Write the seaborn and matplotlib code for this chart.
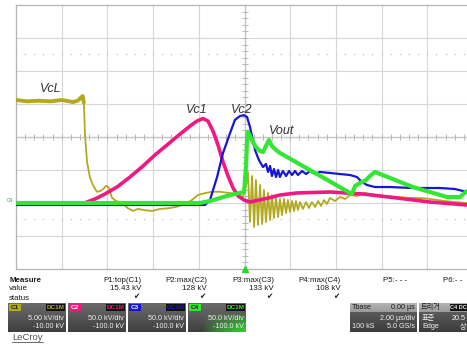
import numpy as np
import pandas as pd
import matplotlib
matplotlib.use("Agg")
import matplotlib.pyplot as plt
import matplotlib.colors as mcolors
from matplotlib.patches import Rectangle
from matplotlib.lines import Line2D
import seaborn as sns

# ---------------- waveform data (time in us, voltage in kV) ----------------
t_vcl = [-10.0, -9.5, -9.0, -8.5, -8.0, -7.5, -7.3, -7.15, -7.08, -7.03,
         -6.98, -6.89, -6.76, -6.63, -6.46, -6.32, -6.19, -6.06, -5.93, -5.80,
         -5.62, -5.36, -5.10, -4.88, -4.66, -4.35, -4.05, -3.70, -3.35, -3.00,
         -2.60, -2.30, -2.04, -1.73, -1.42, -1.07, -0.63, -0.28, -0.07,
         0.07, 0.15, 0.24, 0.33, 0.42, 0.50, 0.59, 0.68, 0.77, 0.85,
         0.94, 1.03, 1.12, 1.20, 1.29, 1.38, 1.47, 1.55, 1.64, 1.73,
         1.82, 1.90, 1.99, 2.08, 2.17, 2.25, 2.34, 2.43, 2.56, 2.69,
         2.82, 2.95, 3.09, 3.22, 3.35, 3.48, 3.61, 3.74, 3.96, 4.18,
         4.40, 4.62, 4.92, 5.27, 5.71, 6.15, 6.67, 7.24, 7.68, 8.12,
         8.77, 9.21, 9.74]
v_vcl = [15.6, 15.4, 15.5, 15.4, 15.6, 15.3, 15.5, 16.0, 16.2, 15.2,
         10.3, 6.2, 3.8, 2.7, 1.7, 1.8, 2.1, 2.6, 2.3, 0.8,
         0.3, 0.0, -0.8, -1.2, -0.9, -1.1, -1.2, -0.9, -0.8, -0.6,
         -0.15, 0.45, 1.2, 1.5, 1.7, 1.7, 1.5, 1.2, 0.9,
         2.73, 4.70, -2.88, 4.09, -3.64, 3.48, -3.33, 2.73, -3.18, 1.97,
         -2.88, 1.52, -2.58, 1.21, -2.27, 0.91, -2.12, 0.61, -1.82, 0.61,
         -1.52, 0.45, -1.36, 0.30, -1.21, 0.30, -1.06, 0.15, -0.91, 0.15,
         -0.76, 0.15, -0.61, 0.30, -0.45, 0.45, -0.15, 0.76, 0.30, 0.91,
         0.61, 1.21, 1.06, 1.52, 1.21, 1.06, 0.91, 0.76, 0.76, 0.61,
         0.30, 0.15, 0.0]

t_vc1 = [-10.0, -7.00, -6.54, -6.11, -5.58, -5.01, -4.44, -3.92, -3.39, -2.82,
         -2.38, -2.08, -1.82, -1.60, -1.38, -1.16, -0.94, -0.72, -0.50, -0.28,
         -0.02, 0.24, 1.05, 1.55, 2.30, 3.74, 5.19, 6.67, 8.12, 9.74]
v_vc1 = [0.0, 0.0, 6.1, 13.6, 24.2, 39.4, 56.1, 72.7, 87.9, 104.5,
         116.7, 124.2, 128.0, 124.2, 109.1, 87.9, 62.1, 40.9, 22.7, 10.6,
         4.5, 1.5, 7.6, 12.1, 15.2, 16.7, 13.6, 7.6, 1.5, -3.0]

t_vc2 = [-10.0, -1.73, -1.51, -1.20, -0.94, -0.63, -0.42, -0.20, -0.02, 0.11,
         0.24, 0.46, 0.63, 0.81, 0.94, 1.03, 1.12, 1.20, 1.29, 1.38,
         1.47, 1.55, 1.68, 1.82, 1.95, 2.08, 2.21, 2.34, 2.52, 2.69,
         2.87, 3.09, 3.30, 3.74, 4.18, 4.62, 4.92, 5.14, 5.36, 5.71,
         6.37, 7.37, 8.56, 9.21, 9.74]
v_vc2 = [-3.0, -3.0, 4.5, 39.4, 75.8, 106.1, 125.8, 131.8, 133.0, 130.3,
         115.2, 80.3, 65.2, 54.5, 59.1, 47.0, 56.1, 40.9, 51.5, 39.4,
         50.0, 39.4, 48.5, 40.9, 48.5, 42.4, 48.5, 42.4, 48.5, 43.9,
         48.5, 43.9, 47.0, 45.5, 43.9, 42.4, 39.4, 31.8, 27.3, 24.2,
         24.2, 22.7, 22.7, 21.2, 16.7]

t_vout = [-10.0, -1.95, -1.51, -1.07, -0.63, -0.20, -0.02, 0.07, 0.11, 0.15,
          0.24, 0.37, 0.50, 0.68, 0.81, 0.94, 1.07, 1.20, 1.38, 1.55,
          4.70, 4.84, 5.05, 5.32, 5.49, 5.71, 7.37, 8.86, 9.43, 9.74]
v_vout = [0.0, 0.0, 3.0, 7.6, 12.1, 15.2, 16.7, 57.6, 95.4, 108.0,
          101.5, 92.4, 84.8, 78.8, 77.3, 86.4, 95.4, 86.4, 80.3, 75.8,
          13.6, 25.8, 30.3, 34.8, 40.9, 47.0, 24.2, 9.1, 9.1, 18.2]

# ---------------- channel setup ----------------
channels = ["C1", "C2", "C3", "C4"]
trace_names = ["VcL", "Vc1", "Vc2", "Vout"]
volts_per_div = [5.0, 50.0, 50.0, 50.0]
offset_kv = [-10.0, -100.0, -100.0, -100.0]
ch_colors = ["#b3a91e", "#f01882", "#1616d6", "#33e633"]
ch_widths = [1.3, 2.6, 1.6, 3.0]

meas_names = ["P1:top(C1)", "P2:max(C2)", "P3:max(C3)", "P4:max(C4)", "P5:- - -"]
meas_values = ["15.43 kV", "128 kV", "133 kV", "108 kV", ""]
scale_labels = ["5.00 kV/div", "50.0 kV/div", "50.0 kV/div", "50.0 kV/div"]
offset_labels = ["-10.00 kV", "-100.0 kV", "-100.0 kV", "-100.0 kV"]

series = [(t_vcl, v_vcl), (t_vc1, v_vc1), (t_vc2, v_vc2), (t_vout, v_vout)]
frames = []
for ch, (tt, vv), vpd, off in zip(channels, series, volts_per_div, offset_kv):
    d = pd.DataFrame({"t": tt, "kV": vv})
    d["div"] = (d["kV"] + off) / vpd
    d["ch"] = ch
    frames.append(d)
df = pd.concat(frames, ignore_index=True)

# ---------------- figure ----------------
W, H = 467, 344
sns.set_theme(style="white")
plt.rcParams["font.family"] = ["Liberation Sans", "DejaVu Sans", "Noto Sans CJK KR"]
KR = ["Noto Sans CJK KR", "DejaVu Sans"]

fig = plt.figure(figsize=(W / 100, H / 100), dpi=100)
fig.patch.set_facecolor("white")


def fx(x):
    return x / W


def fy(y):
    return 1 - y / H


ax = fig.add_axes([fx(16), fy(269), 451 / W, 264 / H])
ax.set_xlim(-10, -10 + 451 / 22.85)
ax.set_ylim(-4, 4)
ax.set_facecolor("white")

grid_c = "#d6d6d6"
for gx in range(-8, 10, 2):
    ax.axvline(gx, color=grid_c, lw=0.8, zorder=0)
for gy in range(-3, 4):
    ax.axhline(gy, color=grid_c, lw=0.8, zorder=0)
ax.axvline(0, color="#c4c4c4", lw=0.9, zorder=0)
ax.axhline(0, color="#c4c4c4", lw=0.9, zorder=0)

xt = np.arange(-10, 9.8, 0.4)
yt = np.arange(-4, 4.01, 0.2)
ax.plot(xt, np.zeros_like(xt), ls="none", marker="|", ms=4, mew=0.7, color="#b8b8b8", zorder=0)
ax.plot(np.zeros_like(yt), yt, ls="none", marker="_", ms=4, mew=0.7, color="#b8b8b8", zorder=0)
for yd in (2.5, -2.5):
    ax.plot(xt, np.full_like(xt, yd), ls="none", marker="s", ms=0.9, mew=0, color="#c4c4c4", zorder=0)

for spine in ("left", "top", "bottom"):
    ax.spines[spine].set_color("#b4b4b4")
    ax.spines[spine].set_linewidth(0.9)
ax.spines["right"].set_visible(False)
ax.set_xticks([])
ax.set_yticks([])

for i, (ch, col, lw) in enumerate(zip(channels, ch_colors, ch_widths)):
    sub = df[df["ch"] == ch]
    sns.lineplot(data=sub, x="t", y="div", ax=ax, color=col, lw=lw,
                 sort=False, estimator=None, legend=False, zorder=3 + i)
    if ch == "C1":
        pre = sub[sub["t"] < -7.02]
        sns.lineplot(data=pre, x="t", y="div", ax=ax, color=col, lw=2.8,
                     sort=False, estimator=None, legend=False, zorder=3)
ax.set_xlabel("")
ax.set_ylabel("")

label_pos = [(-8.47, 1.45), (-2.08, 0.82), (-0.11, 0.82), (1.64, 0.18)]
for name, (lx, ly) in zip(trace_names, label_pos):
    ax.text(lx, ly, name, fontsize=9, style="italic", color="#333333",
            ha="center", va="center", zorder=10)

# trigger position marker and channel ground marker
ax.plot([0], [-4], marker="^", ms=5, color="#22dd22", clip_on=False, zorder=10)
fig.text(fx(7), fy(201), "C4", fontsize=3.5, color="#22aa22", ha="left", va="center")

# ---------------- measurement table ----------------
txt = dict(fontsize=5.7, color="#1a1a1a", va="center")
fig.text(fx(9), fy(280), "Measure", fontweight="bold", **txt)
fig.text(fx(9), fy(289), "value", **txt)
fig.text(fx(9), fy(298), "status", **txt)
col_right = [141, 207, 274, 341, 407]
for xr, nm, val in zip(col_right, meas_names, meas_values):
    fig.text(fx(xr), fy(280), nm, ha="right", **txt)
    if val:
        fig.text(fx(xr), fy(289), val, ha="right", **txt)
        fig.text(fx(xr - 2), fy(298), "\u2714", ha="right", fontsize=5.5,
                 color="#222222", va="center")
fig.text(fx(443), fy(280), "P6:- -", ha="left", **txt)


def grad_box(x0, y0, x1, y1, top, bottom, glow=None):
    bax = fig.add_axes([fx(x0), fy(y1), (x1 - x0) / W, (y1 - y0) / H])
    n = 40
    ct = np.array(mcolors.to_rgb(top))
    cb = np.array(mcolors.to_rgb(bottom))
    f = np.linspace(0, 1, n)
    img = ct[None, None, :] * (1 - f)[:, None, None] + cb[None, None, :] * f[:, None, None]
    img = np.repeat(img, n, axis=1)
    if glow is not None:
        gx = np.clip((np.linspace(0, 1, n) - 0.25) / 0.75, 0, 1)
        gy = np.clip((f - 0.35) / 0.65, 0, 1)
        w = (gy[:, None] * gx[None, :]) ** 0.7
        cg = np.array(mcolors.to_rgb(glow))
        img = img * (1 - w[:, :, None]) + cg[None, None, :] * w[:, :, None]
    bax.imshow(img, aspect="auto", extent=(0, 1, 0, 1), interpolation="bilinear")
    bax.set_axis_off()
    return bax


def tag(x, y, w, h, face, text, tcolor, fs=4.6):
    fig.add_artist(Rectangle((fx(x), fy(y + h)), w / W, h / H, transform=fig.transFigure,
                             facecolor=face, edgecolor="none", zorder=5))
    fig.text(fx(x + w / 2), fy(y + h / 2), text, ha="center", va="center",
             fontsize=fs, color=tcolor, fontweight="bold", zorder=6)


box_x = [8, 68, 128, 188]
for i, x0 in enumerate(box_x):
    x1 = x0 + 58
    glow = "#2fd42f" if channels[i] == "C4" else None
    grad_box(x0, 303, x1, 332, "#6c6c6c", "#3e3e3e", glow=glow)
    tag_text_col = "#222222" if channels[i] in ("C1", "C4") else "#f4f4f4"
    tag(x0 + 1, 304, 12, 7, ch_colors[i], channels[i], tag_text_col)
    tag(x1 - 20, 304, 19, 7, "#111111", "DC1M", ch_colors[i])
    fig.text(fx(x1 - 2), fy(318), scale_labels[i], ha="right", va="center",
             fontsize=5.2, color="#f2f2f2", zorder=6)
    fig.text(fx(x1 - 2), fy(327), offset_labels[i], ha="right", va="center",
             fontsize=5.2, color="#f2f2f2", zorder=6)

# timebase box
grad_box(350, 303, 417, 312, "#b4b4b4", "#9a9a9a")
grad_box(350, 312, 417, 332, "#5a5a5a", "#3c3c3c")
fig.text(fx(352), fy(307.5), "Tbase", fontsize=5.2, color="#1a1a1a", va="center", zorder=6)
fig.text(fx(415), fy(307.5), "0.00 \u00b5s", fontsize=5.2, color="#1a1a1a", va="center",
         ha="right", zorder=6)
fig.text(fx(415), fy(318), "2.00 \u00b5s/div", fontsize=5.2, color="#f2f2f2", va="center",
         ha="right", zorder=6)
fig.text(fx(352), fy(327), "100 kS", fontsize=5.2, color="#f2f2f2", va="center", zorder=6)
fig.text(fx(415), fy(327), "5.0 GS/s", fontsize=5.2, color="#f2f2f2", va="center",
         ha="right", zorder=6)

# trigger box
grad_box(419, 303, 470, 312, "#b4b4b4", "#9a9a9a")
grad_box(419, 312, 470, 332, "#5a5a5a", "#3c3c3c")
fig.text(fx(421), fy(307.5), "\ud2b8\ub9ac\uac70", fontsize=5.2, color="#1a1a1a",
         va="center", zorder=6, family=KR)
tag(450, 304, 17, 7, "#111111", "C4 DC", "#e8e8e8", fs=4.0)
fig.text(fx(422), fy(318), "\ud45c\uc900", fontsize=5.2, color="#f2f2f2", va="center",
         zorder=6, family=KR)
fig.text(fx(466), fy(318), "20.5", fontsize=5.2, color="#f2f2f2", va="center",
         ha="right", zorder=6)
fig.text(fx(422), fy(327), "Edge", fontsize=5.2, color="#f2f2f2", va="center", zorder=6)
fig.text(fx(466), fy(327), "\uc0c1", fontsize=5.2, color="#f2f2f2", va="center",
         ha="right", zorder=6, family=KR)

# brand mark
fig.text(fx(12), fy(337.5), "LeCroy", fontsize=6.8, color="#555555", va="center")
fig.add_artist(Line2D([fx(12), fx(43)], [fy(342), fy(342)], transform=fig.transFigure,
                      color="#555555", lw=0.6))

fig.savefig("out.png", dpi=100, facecolor="white")
